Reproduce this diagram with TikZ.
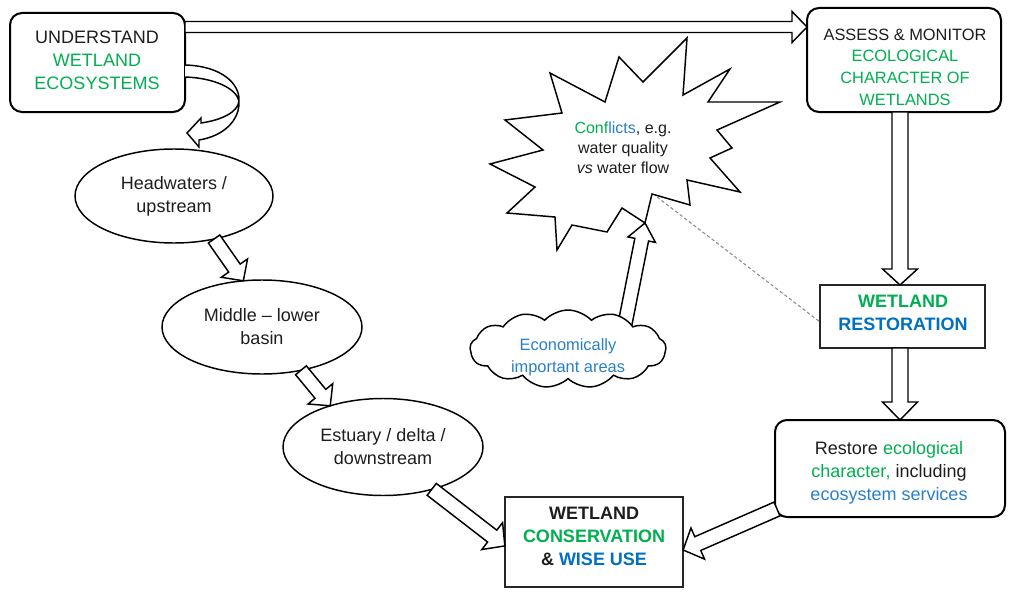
\documentclass[tikz,border=0pt]{standalone}
\usepackage{fontspec}
\setmainfont{Liberation Sans}
\usetikzlibrary{calc,shapes.geometric,shapes.symbols}

\definecolor{wgreen}{RGB}{0,176,80}
\definecolor{wblue}{RGB}{0,112,192}
\definecolor{lblue}{RGB}{40,128,204}
\definecolor{ink}{RGB}{30,30,30}

% Block arrow from #1 to #2; half shaft #3, half head #4, head length #5 (in px)
\newcommand{\blockarrow}[5]{%
  \draw[barrow] let \p1=(#1), \p2=(#2),
      \n1={atan2(\y2-\y1,\x2-\x1)}, \n2={veclen(\x2-\x1,\y2-\y1)} in
    [shift={(\p1)}, rotate=\n1]
    (0pt,{#3*0.75pt}) -- ({(\n2-#5*0.75)*1pt},{#3*0.75pt})
    -- ({(\n2-#5*0.75)*1pt},{#4*0.75pt}) -- ({\n2*1pt},0pt)
    -- ({(\n2-#5*0.75)*1pt},{-#4*0.75pt}) -- ({(\n2-#5*0.75)*1pt},{-#3*0.75pt})
    -- (0pt,{-#3*0.75pt}) -- cycle;}

\begin{document}
\begin{tikzpicture}[x=0.75pt, y=-0.75pt,
  every node/.style={inner sep=0pt, outer sep=0pt},
  txt/.style={align=center, text=ink, font=\fontsize{13.5}{17.25}\selectfont},
  smalltxt/.style={align=center, text=ink, font=\fontsize{12.3}{16.2}\selectfont},
  roundbox/.style={draw=black, line width=1.5pt, rounded corners=9pt, fill=white},
  plainbox/.style={draw=black!85, line width=0.9pt, fill=white},
  stage/.style={ellipse, draw=black, line width=1.1pt, fill=white, txt,
                minimum width=150pt, minimum height=70.5pt},
  barrow/.style={draw=black, line width=1.1pt, fill=white, line join=miter},
  guide/.style={draw=black!45, line width=0.8pt, dash pattern=on 2.5pt off 1.8pt},
]
\useasboundingbox (0,0) rectangle (1009,592);

% ---- boxes ----
\node[roundbox, minimum width=175*0.75pt, minimum height=99*0.75pt] (und) at (97.5,62.5) {};
\node[txt] (undtxt) at (97,60) {UNDERSTAND\\\textcolor{wgreen}{WETLAND}\\\textcolor{wgreen}{ECOSYSTEMS}};

\node[roundbox, minimum width=194*0.75pt, minimum height=104*0.75pt] (ass) at (904,60) {};
\node[smalltxt] (asstxt) at (905,67) {ASSESS \& MONITOR\\\textcolor{wgreen}{ECOLOGICAL}\\\textcolor{wgreen}{CHARACTER OF}\\\textcolor{wgreen}{WETLANDS}};

\node[plainbox, minimum width=165*0.75pt, minimum height=63*0.75pt] (rest) at (902.5,316.5) {};
\node[txt, font=\fontsize{13.5}{17.25}\selectfont\bfseries] (resttxt) at (903,313)
  {\textcolor{wgreen}{WETLAND}\\\textcolor{wblue}{RESTORATION}};

\node[roundbox, minimum width=230*0.75pt, minimum height=97*0.75pt] (restore) at (890,468.5) {};
\node[txt] (restoretxt) at (889,473)
  {Restore \textcolor{wgreen}{ecological}\\\textcolor{wgreen}{character,} including\\\textcolor{lblue}{ecosystem services}};

\node[plainbox, minimum width=178*0.75pt, minimum height=90*0.75pt] (cons) at (594,542) {};
\node[txt, font=\fontsize{13.5}{17.25}\selectfont\bfseries] (constxt) at (594,536)
  {WETLAND\\\textcolor{wgreen}{CONSERVATION}\\\& \textcolor{wblue}{WISE USE}};

% ---- river stages ----
\node[stage, minimum width=198*0.75pt] (head) at (174,196) {Headwaters /\\upstream};
\node[stage] (mid) at (262,327) {Middle \textendash{} lower\\basin};
\node[stage, minimum height=97*0.75pt] (est) at (383,447) {Estuary / delta /\\downstream};

% ---- conflict starburst ----
\draw[line width=1.1pt, fill=white, line join=miter]
  (550,73) -- (562,113) -- (505,120) -- (543,150) -- (490,164) -- (535,187)
  -- (507,213) -- (555,217) -- (557,250) -- (572,225) -- (607,232) -- (622,208)
  -- (645,223) -- (652,194) -- (690,205) -- (687,180) -- (740,192) -- (710,158)
  -- (732,148) -- (717,130) -- (780,102) -- (708,102) -- (730,69) -- (683,95)
  -- (687,38) -- (643,82) -- (619,57) -- (605,102) -- cycle;
\coordinate (startip) at (645,223);
\coordinate (starjoin) at (657,197);
\node[align=center, text=ink, font=\fontsize{12}{15}\selectfont] (conf) at (623,148)
  {\textcolor{wgreen}{Conf}\textcolor{lblue}{licts}, e.g.\\water quality\\\emph{vs} water flow};

% ---- dashed link ----
\draw[guide] (starjoin) -- (rest.west |- 0,322);

% ---- block arrows ----
\blockarrow{und.east |- 0,27}{ass.west |- 0,27}{5.5}{15.5}{15}
\blockarrow{ass.south -| 900,0}{rest.north -| 900,0}{8}{17.5}{16}
\blockarrow{rest.south -| 900,0}{restore.north -| 900,0}{8}{17.5}{18}
\blockarrow{head.-47}{mid.112}{7}{16}{15.5}
\blockarrow{mid.-48}{est.142}{7}{16}{15.5}
\blockarrow{est.-41}{cons.west |- 0,546}{7.5}{17}{16}
\coordinate (restorefoot) at ([shift={(2,-8)}]restore.south west);
\blockarrow{restorefoot}{cons.east |- 0,550}{7.5}{17}{16}

% ---- curved arrow into the river stages ----
\draw[barrow]
  (und.east |- 0,65) .. controls (222,66) and (240,84) .. (239,101)
  .. controls (238,112) and (222,120) .. (201,123) -- (201,118) -- (187,133)
  -- (199,147) -- (199,140) .. controls (224,136) and (240,120) .. (239,101)
  .. controls (236,88) and (214,78) .. (und.east |- 0,77);

% ---- economic areas cloud ----
\coordinate (econtop) at (625,324);
\blockarrow{econtop}{startip}{7}{14}{17}
\node[cloud, cloud puffs=13, cloud puff arc=95, cloud ignores aspect, draw=black,
      line width=1.1pt, fill=white, minimum width=196*0.75pt, minimum height=78*0.75pt]
  (econ) at (568,349) {};
\node[smalltxt, text=lblue] (econtxt) at (568,357) {Economically\\important areas};

\end{tikzpicture}
\end{document}
